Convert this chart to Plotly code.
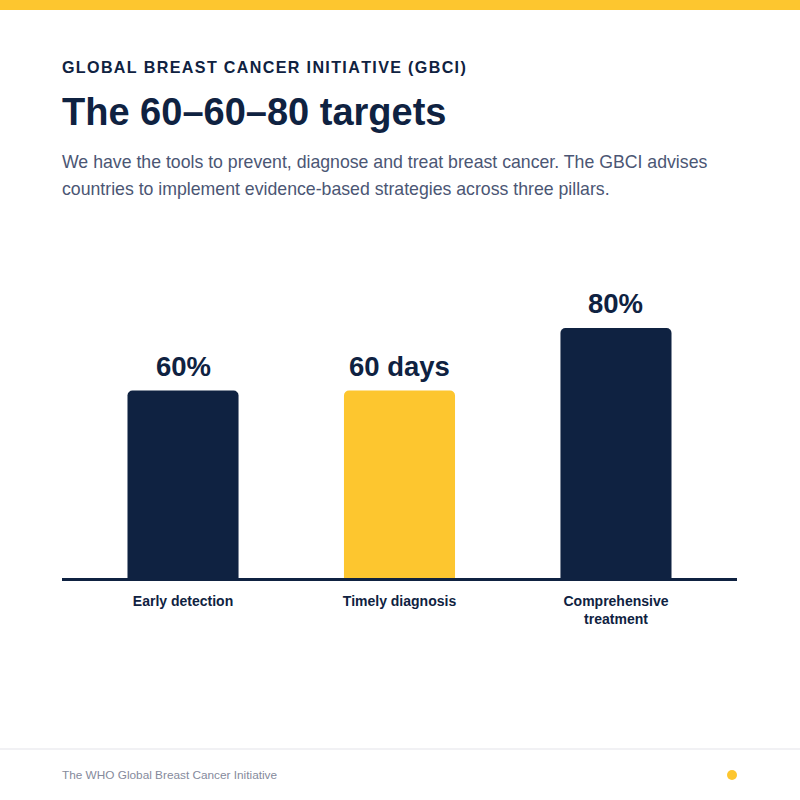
import plotly.graph_objects as go

categories = ["Early detection", "Timely diagnosis", "Comprehensive<br>treatment"]
values = [60, 60, 80]
value_labels = ["60%", "60 days", "80%"]
bar_colors = ["#0f2241", "#fdc62f", "#0f2241"]

NAVY = "#0f2241"
YELLOW = "#fdc62f"
FONT = "Liberation Sans, Arial, Helvetica, sans-serif"

# plot area: x 62..737 px, y 240..578 px
L, R, T, B = 62, 63, 240, 222
PW, PH = 800 - L - R, 800 - T - B


def py(ypx):
    return (800 - B - ypx) / PH


def px(xpx):
    return (xpx - L) / PW


def tracked(s):
    return "\u200a".join(s)


TX = px(60)  # left edge for header/footer text

fig = go.Figure(
    go.Bar(
        x=categories,
        y=values,
        width=0.513,
        marker=dict(color=bar_colors, line=dict(width=0)),
        cliponaxis=False,
        hoverinfo="skip",
    )
)

value_annotations = [
    dict(text=lab, x=cat, y=val, xref="x", yref="y", xanchor="center", yanchor="bottom",
         yshift=7, showarrow=False,
         font=dict(family=FONT, size=27.5, color=NAVY, weight="bold"))
    for cat, val, lab in zip(categories, values, value_labels)
]

fig.update_layout(
    width=800,
    height=800,
    margin=dict(l=L, r=R, t=T, b=B),
    paper_bgcolor="white",
    plot_bgcolor="white",
    showlegend=False,
    barcornerradius=5,
    xaxis=dict(
        range=[-0.559, 2.559],
        showline=True,
        linecolor=NAVY,
        linewidth=2.5,
        ticks="",
        showgrid=False,
        zeroline=False,
        tickfont=dict(family=FONT, size=14, color=NAVY, weight="bold"),
        ticklabelstandoff=8,
        fixedrange=True,
    ),
    yaxis=dict(
        range=[0, PH / 3.125],
        visible=False,
        showgrid=False,
        zeroline=False,
        fixedrange=True,
    ),
    shapes=[
        dict(type="rect", xref="paper", yref="paper", x0=-0.2, x1=1.2,
             y0=py(10), y1=py(-5), fillcolor=YELLOW, line=dict(width=0), layer="above"),
        dict(type="line", xref="paper", yref="paper", x0=-0.2, x1=1.2,
             y0=py(749), y1=py(749), line=dict(color="#ececf0", width=1.5)),
        dict(type="circle", xref="paper", yref="paper",
             x0=px(727), x1=px(737), y0=py(780), y1=py(770),
             fillcolor=YELLOW, line=dict(width=0)),
    ],
    annotations=value_annotations + [
        dict(text=tracked("GLOBAL BREAST CANCER INITIATIVE (GBCI)"), xref="paper", yref="paper",
             x=TX, y=py(67), xanchor="left", yanchor="middle", showarrow=False,
             font=dict(family=FONT, size=16.1, color=NAVY, weight="bold")),
        dict(text="The 60–60–80 targets", xref="paper", yref="paper",
             x=TX, y=py(111.5), xanchor="left", yanchor="middle", showarrow=False,
             font=dict(family=FONT, size=38, color=NAVY, weight="bold")),
        dict(text="We have the tools to prevent, diagnose and treat breast cancer. The GBCI advises",
             xref="paper", yref="paper", x=TX, y=py(162), xanchor="left", yanchor="middle",
             showarrow=False, font=dict(family=FONT, size=17.7, color="#4b5674")),
        dict(text="countries to implement evidence-based strategies across three pillars.",
             xref="paper", yref="paper", x=TX, y=py(189), xanchor="left", yanchor="middle",
             showarrow=False, font=dict(family=FONT, size=17.7, color="#4b5674")),
        dict(text="The WHO Global Breast Cancer Initiative", xref="paper", yref="paper",
             x=TX, y=py(775), xanchor="left", yanchor="middle", showarrow=False,
             font=dict(family=FONT, size=11.8, color="#858a9c")),
    ],
)

fig.write_html("out.html")
